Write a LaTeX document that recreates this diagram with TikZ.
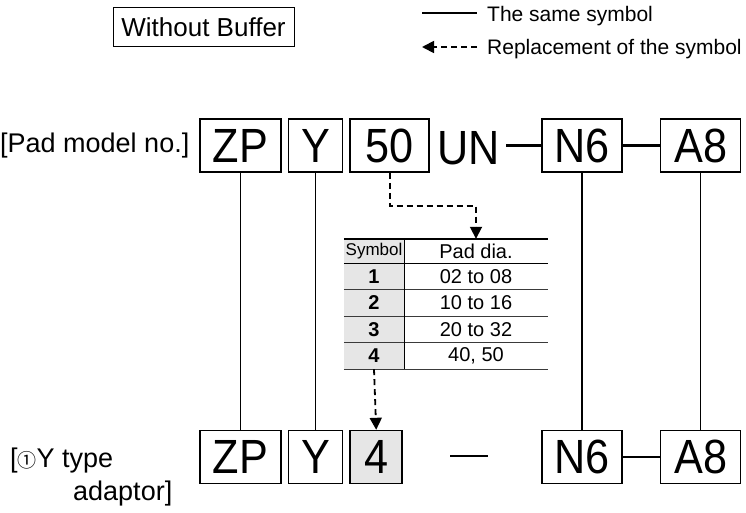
\documentclass[tikz,border=0pt]{standalone}
\usepackage{fontspec}
\setmainfont{Liberation Sans}
\newfontfamily\codefont[FakeStretch=0.9]{Liberation Sans}
\newfontfamily\cjkfont{Noto Sans CJK JP}
\usetikzlibrary{
  arrows.meta,
  positioning,
  calc
}
\definecolor{pdGray}{HTML}{E6E6E6}
\definecolor{pdLine}{HTML}{3A3A3A}
\tikzset{
  codebox/.style={
    draw, line width=1.6pt, minimum height=53pt, inner sep=0pt,
    font=\codefont\fontsize{48}{48}\selectfont
  },
  newbox/.style={codebox, fill=pdGray},
  plaincode/.style={codebox, draw=none},
  titlebox/.style={draw, line width=1pt, minimum width=181pt, minimum height=39pt,
    inner sep=0pt, font=\fontsize{26}{26}\selectfont},
  lbltext/.style={font=\fontsize{27}{27}\selectfont, inner sep=0pt, anchor=base west},
  legtext/.style={font=\fontsize{21}{21}\selectfont, inner sep=0pt, anchor=base west},
  samesym/.style={line width=1.6pt},
  bond/.style={line width=2.5pt},
  replsym/.style={line width=1.8pt, dash pattern=on 6pt off 4pt,
    -{Triangle[length=12pt, width=12pt]}},
  symcell/.style={fill=pdGray, minimum width=60pt, minimum height=26.5pt, inner sep=0pt,
    font=\fontsize{20}{20}\selectfont\bfseries},
  diacell/.style={minimum width=144pt, minimum height=26.5pt, inner sep=0pt,
    font=\fontsize{20}{20}\selectfont},
  rowline/.style={line width=1pt, pdLine},
  topline/.style={line width=2pt}
}

\begin{document}
\begin{tikzpicture}[x=1pt, y=-1pt]
  \useasboundingbox (0,0) rectangle (746,513);
  % legend
  \node[titlebox] (nobuf) at (203.5,27.5) {Without Buffer};
  \coordinate (lgA) at (422,13);
  \coordinate (lgB) at (477,13);
  \coordinate (lgC) at (422,47);
  \coordinate (lgD) at (477,47);
  \draw[samesym, line width=2pt] (lgA) -- (lgB);
  \draw[replsym] (lgD) -- (lgC);
  \node[legtext] (lgsame) at (487,22) {The same symbol};
  \node[legtext] (lgrepl) at (487,55) {Replacement of the symbol};

  % pad model no.
  \node[lbltext] (padlbl) at (0,153) {[Pad model no.]};
  \node[codebox, minimum width=81pt] (zp) at (240.5,145.5) {ZP};
  \node[codebox, minimum width=54pt, right=6pt of zp] (ysym) {Y};
  \node[codebox, minimum width=79pt, right=6pt of ysym] (fifty) {50};
  \node[plaincode, minimum width=74pt] (un) at (468.5,148.5) {UN};
  \node[codebox, minimum width=80pt] (n6) at (582,145.5) {N6};
  \node[codebox, minimum width=80pt, right=37pt of n6] (a8) {A8};
  \draw[bond] (un.east |- n6.west) -- (n6.west);
  \draw[bond] (n6) -- (a8);

  % pad diameter table
  \node[symcell, minimum height=24pt, font=\fontsize{17}{17}\selectfont] (symhead) at (374,251) {Symbol};
  \node[diacell, minimum height=24pt] (padhead) at (476,251) {Pad dia.};
  \foreach \sym/\dia [count=\i] in {1/02 to 08, 2/10 to 16, 3/20 to 32, 4/{40, 50}} {
    \node[symcell] (s\i) at (374,{249.75+26.5*\i}) {\sym};
    \node[diacell] (d\i) at (476,{249.75+26.5*\i}) {\dia};
  }
  \foreach \i in {1,...,4}
    \draw[rowline] (s\i.south west) -- (d\i.south east);
  \draw[rowline, black] (symhead.south west) -- (padhead.south east);
  \draw[rowline, black] (symhead.north east) -- (s4.south east);
  \draw[topline] (symhead.north west) -- (padhead.north east);

  % Y type adaptor
  \node[lbltext] (typelbl) at (10,467) {[{\cjkfont\fontsize{19}{19}\selectfont ①}Y type};
  \node[lbltext] (adaptlbl) at (73,500) {adaptor]};
  \node[codebox, minimum width=81pt, below=257pt of zp] (zp2) {ZP};
  \node[codebox, minimum width=54pt, right=6pt of zp2] (y2) {Y};
  \node[newbox, minimum width=52pt, right=6pt of y2] (four) {4};
  \coordinate (dashL) at (450,456);
  \coordinate (dashR) at (488,456);
  \node[codebox, minimum width=80pt, below=257pt of n6] (n62) {N6};
  \node[codebox, minimum width=80pt, below=257pt of a8] (a82) {A8};
  \draw[bond] (dashL) -- (dashR);
  \draw[bond] (n62) -- (a82);

  % connectors
  \draw[samesym] (zp) -- (zp2);
  \draw[samesym] (ysym) -- (y2);
  \draw[samesym] (n6) -- (n62);
  \draw[samesym] (a8) -- (a82);
  \draw[replsym] (fifty.south) -- ++(0,33) -| (padhead.north);
  \draw[replsym] (s4.south) -- (four.north);
\end{tikzpicture}
\end{document}
